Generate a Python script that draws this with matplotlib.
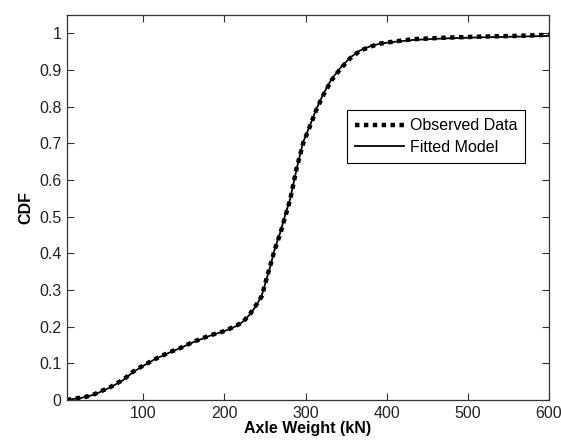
import matplotlib
matplotlib.use("Agg")
import matplotlib.pyplot as plt

plt.rcParams['font.family'] = ['Liberation Sans', 'DejaVu Sans']

# axle weight (kN) and cumulative probability
weight = [6, 15, 22, 30, 40, 47, 60, 75, 88, 100, 115, 133, 145, 162, 182, 200,
          207, 215, 223, 232, 240, 246, 256, 262, 269, 275, 281, 289, 297, 306,
          314, 322, 332, 343, 355, 367, 380, 392, 410, 433, 470, 515, 560, 600]
cdf_obs = [0.0, 0.004, 0.006, 0.009, 0.016, 0.023, 0.036, 0.055, 0.078, 0.094,
           0.112, 0.131, 0.141, 0.159, 0.176, 0.188, 0.195, 0.203, 0.213, 0.236,
           0.262, 0.283, 0.363, 0.41, 0.455, 0.5, 0.546, 0.632, 0.7, 0.75,
           0.795, 0.832, 0.872, 0.903, 0.932, 0.952, 0.964, 0.972, 0.978, 0.984,
           0.988, 0.991, 0.993, 0.996]
cdf_fit = [0.0, 0.003, 0.005, 0.009, 0.015, 0.022, 0.035, 0.054, 0.077, 0.093,
           0.112, 0.13, 0.141, 0.158, 0.175, 0.188, 0.194, 0.202, 0.214, 0.235,
           0.26, 0.285, 0.36, 0.412, 0.458, 0.505, 0.548, 0.63, 0.703, 0.752,
           0.797, 0.835, 0.875, 0.906, 0.934, 0.953, 0.965, 0.972, 0.977, 0.982,
           0.986, 0.989, 0.991, 0.993]

fig = plt.figure(figsize=(5.61, 4.41), dpi=100)
ax = fig.add_axes([0.1194, 0.093, 0.8592, 0.873])

ax.plot(weight, cdf_obs, color='k', linestyle=(0, (1, 1)), linewidth=3.2, label='Observed Data')
ax.plot(weight, cdf_fit, color='k', linestyle='-', linewidth=1.3, label='Fitted Model')

ax.set_xlim(6, 600)
ax.set_ylim(0, 1.05)
ax.set_xticks([100, 200, 300, 400, 500, 600])
ax.set_yticks([0, 0.1, 0.2, 0.3, 0.4, 0.5, 0.6, 0.7, 0.8, 0.9, 1])
ax.set_yticklabels(['0', '0.1', '0.2', '0.3', '0.4', '0.5', '0.6', '0.7', '0.8', '0.9', '1'])

gray = '#333333'
for s in ax.spines.values():
    s.set_color(gray)
    s.set_linewidth(0.9)
ax.tick_params(direction='in', top=True, right=True, length=5, width=0.8,
               colors=gray, labelsize=11.5, labelcolor='#222222', pad=4)

ax.set_xlabel('Axle Weight (kN)', fontsize=11.5, fontweight='bold', labelpad=0)
ax.set_ylabel('CDF', fontsize=11.5, fontweight='bold', labelpad=4)

leg = ax.legend(loc='upper left', bbox_to_anchor=(0.58, 0.752), fontsize=11.5,
                fancybox=False, framealpha=1, edgecolor='k', handlelength=3.1,
                borderpad=0.5, labelspacing=0.4, handletextpad=0.35, borderaxespad=0)
leg.get_frame().set_linewidth(0.8)

fig.savefig('out.png', dpi=100)
